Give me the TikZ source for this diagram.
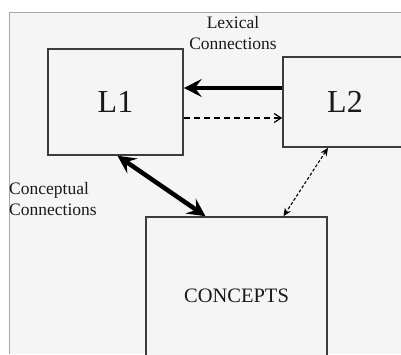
\documentclass[tikz,border=0pt]{standalone}
\usepackage{fontspec}
\setmainfont{Liberation Serif}
\usepackage{xcolor}
\definecolor{panel}{HTML}{F5F5F5}
\definecolor{rim}{HTML}{A8A8A8}
\definecolor{boxline}{HTML}{3C3C3C}
\usetikzlibrary{positioning,arrows.meta}

\begin{document}
\begin{tikzpicture}[x=1pt,y=1pt,
    every node/.style={font=\fontsize{17.5}{21}\selectfont, text=black!90},
    lang/.style={draw=boxline, line width=1.6pt, fill=panel, inner sep=0pt},
    thickarr/.style={-{Stealth[length=18pt,width=18pt,inset=7pt]}, line width=4.5pt},
    thickboth/.style={{Stealth[length=18pt,width=18pt,inset=7pt]}-{Stealth[length=18pt,width=18pt,inset=7pt]},
                      line width=4.5pt},
    dasharr/.style={-{Straight Barb[length=7pt,width=9pt]}, line width=1.2pt,
                    dash pattern=on 6pt off 4pt},
    dotarr/.style={{Stealth[length=8pt,width=7pt]}-{Stealth[length=8pt,width=7pt]},
                   line width=1.1pt, dash pattern=on 3pt off 2pt}]
  \useasboundingbox (0,0) rectangle (401,354);
  \clip (0,0) rectangle (401,354);
  % background panel
  \fill[white] (0,0) rectangle (401,354);
  \fill[panel] (9,0) rectangle (405,342);
  \draw[rim, line width=0.8pt] (9,0) -- (9,342) -- (405,342);

  \node[lang, minimum width=135pt, minimum height=106pt] (L1) at (115.5,252)
    {\fontsize{32}{34}\selectfont L1};
  \node[lang, minimum width=124pt, minimum height=90pt] (L2) at (345,252)
    {\fontsize{32}{34}\selectfont L2};
  \node[lang, minimum width=181pt, minimum height=158pt] (con) at (236.5,58)
    {\fontsize{20.5}{23}\selectfont CONCEPTS};

  \node[align=center, inner sep=0pt] (lex) at (233,321) {Lexical\\Connections};
  \node[align=left, anchor=west, inner sep=0pt] (cpt) at (9,155) {Conceptual\\Connections};

  \draw[thickarr] ([yshift=14pt]L2.west) -- ([yshift=14pt]L1.east);
  \draw[dasharr] ([yshift=-16pt]L1.east) -- ([yshift=-16pt]L2.west);
  \draw[thickboth] ([xshift=2pt]L1.south) -- ([xshift=-31pt]con.north);
  \draw[dotarr] ([xshift=-17pt]L2.south) -- ([xshift=47pt]con.north);
\end{tikzpicture}
\end{document}
